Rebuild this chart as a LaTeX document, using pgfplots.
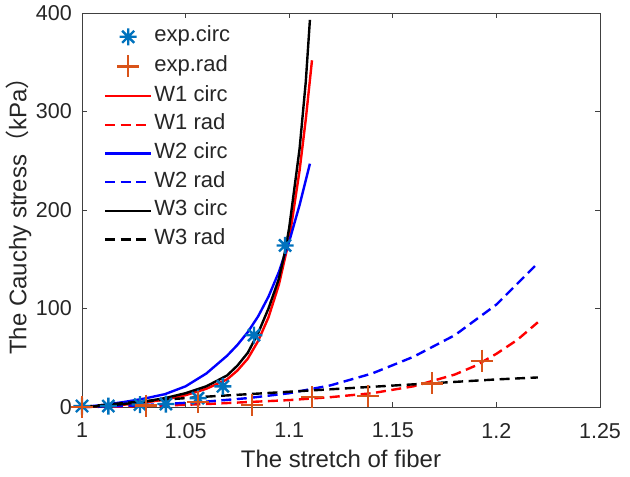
\documentclass[border=0pt]{standalone}
\usepackage{fontspec}
\setmainfont{Liberation Sans}
\newfontfamily\cjk{Noto Sans CJK SC}
\usepackage{pgfplots}
\pgfplotsset{compat=1.18}
\definecolor{mblue}{rgb}{0,0.447,0.741}
\definecolor{morange}{rgb}{0.851,0.325,0.098}
\definecolor{axgray}{gray}{0.15}
\pgfdeclareplotmark{mstar}{%
 \pgfpathmoveto{\pgfqpoint{-\pgfplotmarksize}{0pt}}\pgfpathlineto{\pgfqpoint{\pgfplotmarksize}{0pt}}%
 \pgfpathmoveto{\pgfqpoint{0pt}{-\pgfplotmarksize}}\pgfpathlineto{\pgfqpoint{0pt}{\pgfplotmarksize}}%
 \pgfpathmoveto{\pgfqpoint{-0.707\pgfplotmarksize}{-0.707\pgfplotmarksize}}\pgfpathlineto{\pgfqpoint{0.707\pgfplotmarksize}{0.707\pgfplotmarksize}}%
 \pgfpathmoveto{\pgfqpoint{-0.707\pgfplotmarksize}{0.707\pgfplotmarksize}}\pgfpathlineto{\pgfqpoint{0.707\pgfplotmarksize}{-0.707\pgfplotmarksize}}%
 \pgfusepathqstroke}
\pgfplotsset{
  lineleg/.style={legend image code/.code={\draw[##1] (0pt,0pt) -- (46pt,0pt);}},
  markleg/.style={legend image code/.code={\draw[##1] plot coordinates {(23pt,0pt)};}},
}
\begin{document}
\begin{tikzpicture}
\begin{axis}[
  at={(0,0)}, anchor=south west,
  width=518pt, height=394pt, scale only axis,
  xmin=1, xmax=1.25, ymin=0, ymax=400,
  clip=false,
  xtick={1,1.05,1.1,1.15,1.2,1.25},
  xticklabels={1,1.05,1.1,1.15,1.2,1.25},
  ytick={0,100,200,300,400},
  yticklabels={0,100,200,300,400},
  tick align=inside, major tick length=5pt,
  axis line style={black!75, line width=0.7pt},
  tick style={black!75, line width=0.7pt},
  ticklabel style={font=\fontsize{21.5}{24}\selectfont, text=axgray, inner sep=0pt},
  xticklabel style={yshift=-16pt},
  yticklabel style={xshift=-10pt},
  /pgf/number format/assume math mode=true,
  xlabel={The stretch of fiber},
  ylabel={The Cauchy stress{\cjk （}kPa{\cjk ）}},
  label style={font=\fontsize{24}{27}\selectfont, text=axgray, inner sep=0pt},
  xlabel style={at={(axis description cs:0.5,-0.1315)}, anchor=center},
  ylabel style={at={(axis description cs:-0.1226,0.5)}, anchor=center},
  legend cell align=left,
  legend style={draw=none, fill=none, at={(0.0425,0.965)}, anchor=north west,
    inner sep=0pt, outer sep=0pt, row sep=8.7pt,
    font=\fontsize{22}{25}\selectfont, text=axgray,
    nodes={inner xsep=2pt, inner ysep=0pt, text height=15pt, text depth=5pt}},
  every axis plot/.append style={line width=2.4pt},
]
\addplot[only marks, mark=mstar, mark size=8.5pt, color=mblue, line width=2.4pt, markleg]
  coordinates {(1,1) (1.0127,1) (1.028,2.5) (1.0405,3) (1.056,9) (1.068,21) (1.083,73) (1.098,164)};
\addlegendentry{exp.circ}
\addplot[only marks, mark=+, mark size=11pt, color=morange, line width=2.4pt, markleg]
  coordinates {(1,0) (1.031,1.5) (1.056,5) (1.082,2) (1.111,10) (1.138,11) (1.169,24) (1.193,47)};
\addlegendentry{exp.rad}
\addplot[red, no marks, lineleg] coordinates {(1,0) (1.01,0.8) (1.02,2.3) (1.03,4.5) (1.04,7.5) (1.05,12) (1.06,18.5) (1.07,28) (1.075,37) (1.08,49) (1.085,67) (1.09,91) (1.095,124) (1.10,170) (1.105,240) (1.108,292) (1.111,352)};
\addlegendentry{W1 circ}
\addplot[red, no marks, dash pattern=on 10pt off 5.5pt, lineleg] coordinates {(1,0) (1.02,0.5) (1.04,1.5) (1.06,3) (1.08,5) (1.10,7) (1.12,10) (1.14,14) (1.16,21) (1.18,33) (1.19,42) (1.20,54) (1.21,68) (1.22,86)};
\addlegendentry{W1 rad}
\addplot[blue, no marks, lineleg] coordinates {(1,0) (1.01,2) (1.02,5) (1.03,8.5) (1.04,13) (1.05,21) (1.06,34) (1.07,52) (1.075,63) (1.08,76) (1.085,92) (1.09,112) (1.095,137) (1.10,168) (1.105,205) (1.11,247)};
\addlegendentry{W2 circ}
\addplot[blue, no marks, dash pattern=on 10pt off 5.5pt, lineleg] coordinates {(1,0) (1.02,1) (1.04,3) (1.06,5.5) (1.08,9) (1.10,14) (1.12,22) (1.14,34) (1.16,51) (1.18,73) (1.20,104) (1.22,146)};
\addlegendentry{W2 rad}
\addplot[black, no marks, lineleg] coordinates {(1,0) (1.01,1) (1.02,3) (1.03,5.5) (1.04,9) (1.05,14) (1.06,21) (1.07,32) (1.075,42) (1.08,55) (1.085,75) (1.09,100) (1.095,130) (1.098,158) (1.10,182) (1.105,262) (1.108,330) (1.11,393)};
\addlegendentry{W3 circ}
\addplot[black, no marks, dash pattern=on 10pt off 5.5pt, lineleg] coordinates {(1,0) (1.01,2) (1.02,4) (1.04,7.5) (1.06,10.5) (1.08,13) (1.10,15.5) (1.12,18) (1.14,20.5) (1.16,23) (1.18,25.5) (1.20,28) (1.22,30)};
\addlegendentry{W3 rad}
\end{axis}
\pgfresetboundingbox
\path (-82pt,-70pt) rectangle (548pt,407pt);
\end{tikzpicture}
\end{document}
